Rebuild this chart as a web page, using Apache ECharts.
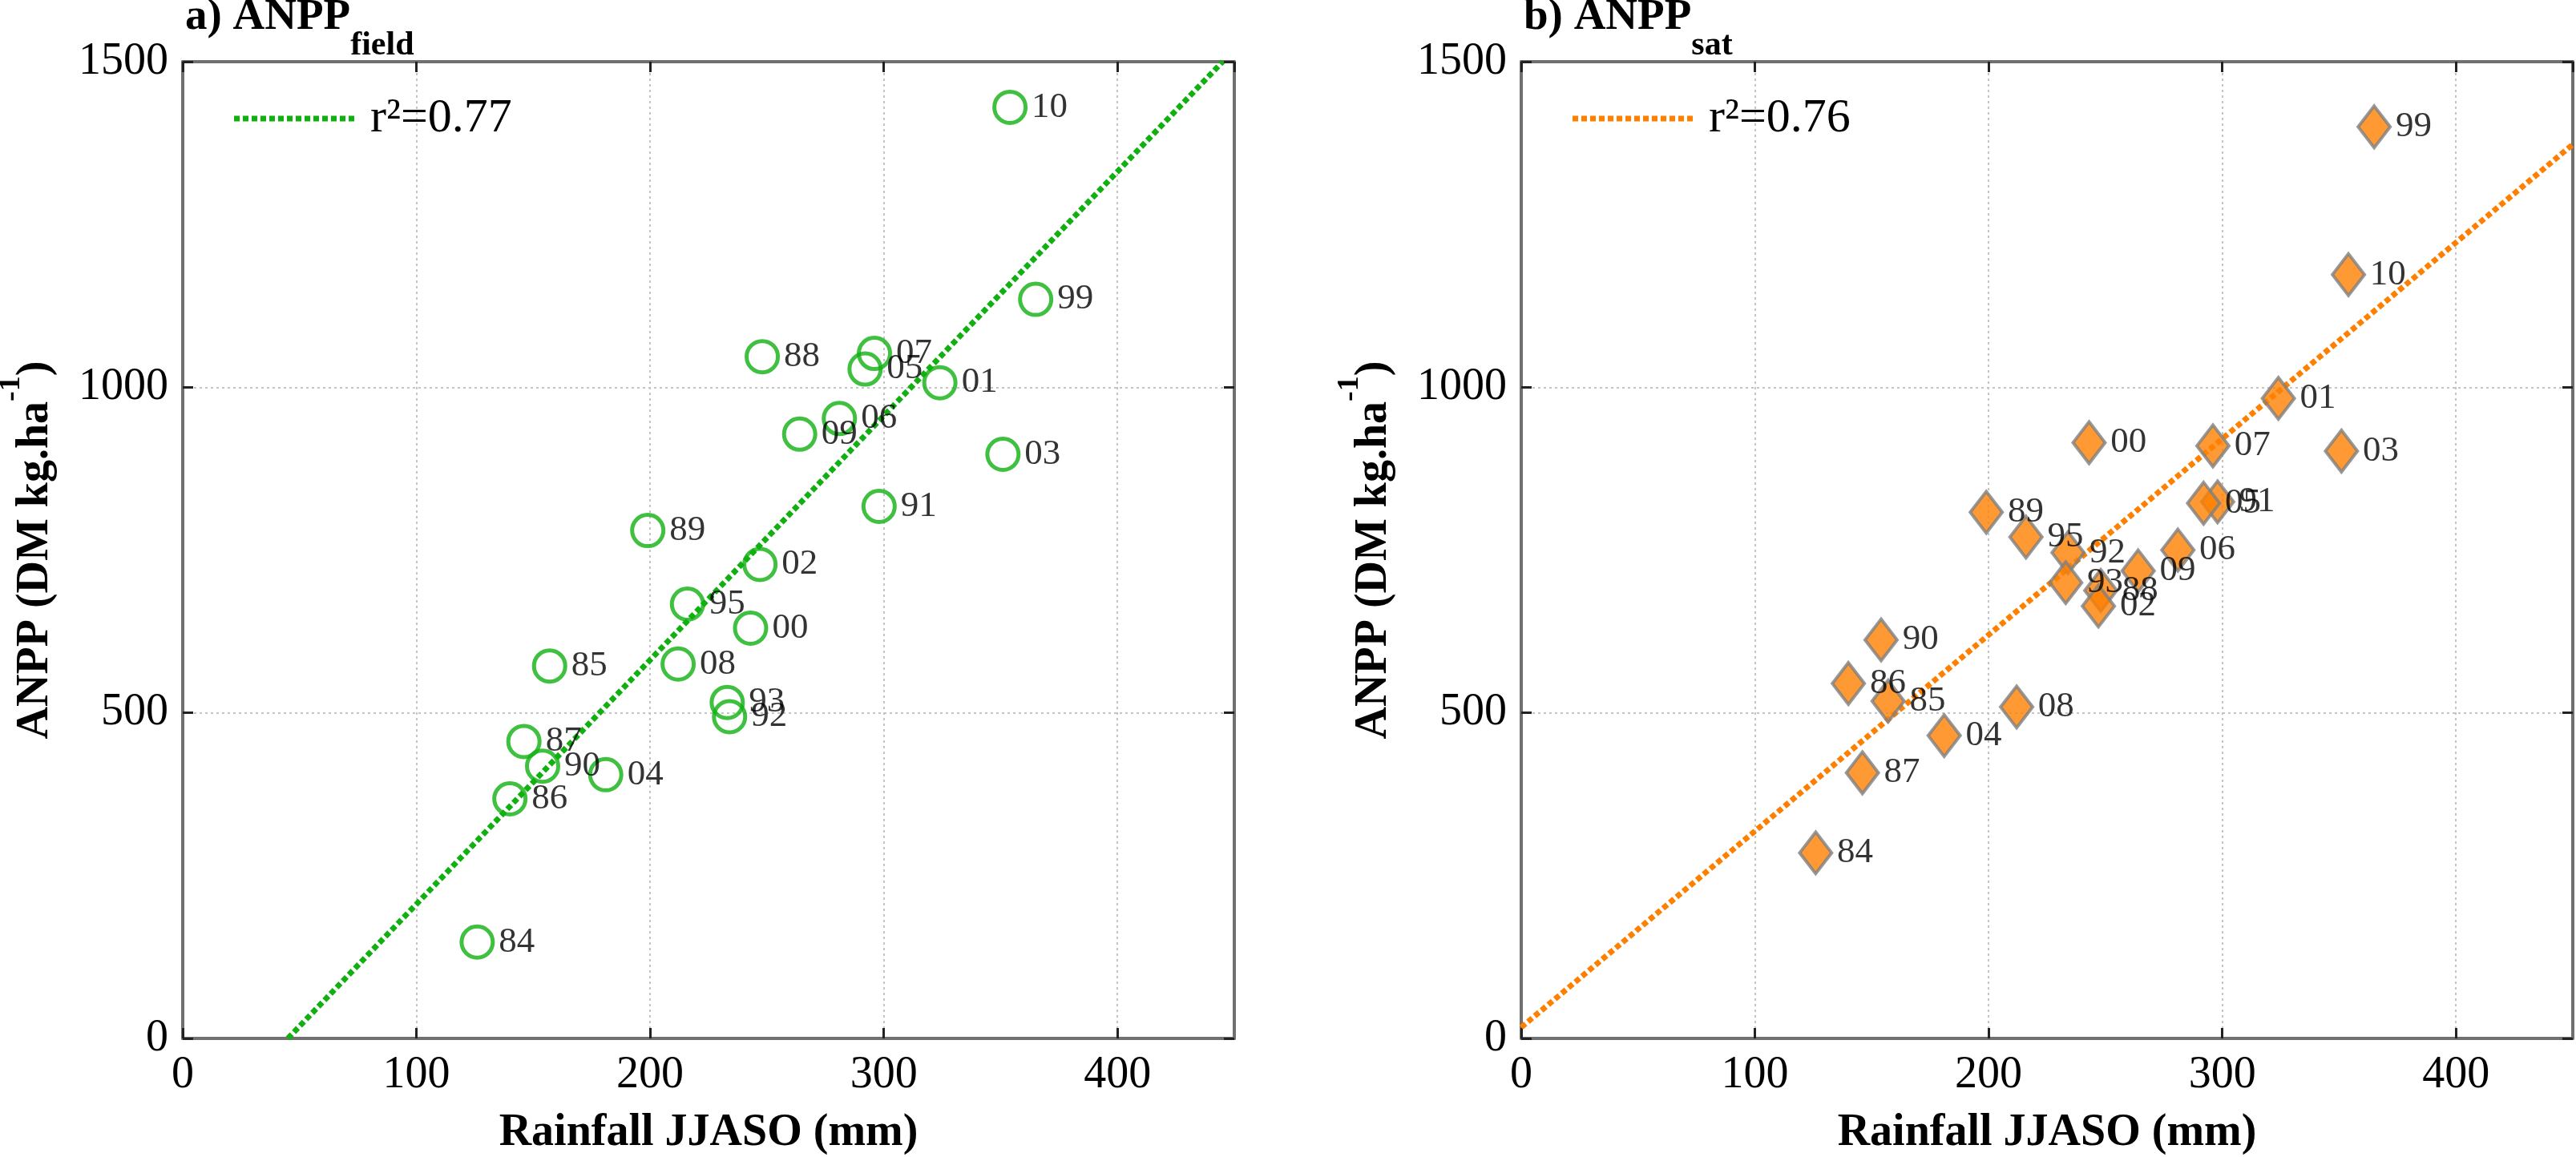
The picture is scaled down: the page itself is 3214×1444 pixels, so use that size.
<!DOCTYPE html>
<html>
<head>
<meta charset="utf-8">
<script src="https://cdn.jsdelivr.net/npm/echarts@6/dist/echarts.min.js"></script>
<style>
  html, body { margin: 0; padding: 0; background: #fff; }
  #main { width: 3214px; height: 1444px; }
</style>
</head>
<body>
<div id="main"></div>
<script>
// rainfall (JJASO) vs ANPP, field and satellite estimates
let years      = ['84', '85', '86', '87', '88', '89', '90', '91', '92', '93', '95', '99', '00', '01', '02', '03', '04', '05', '06', '07', '08', '09', '10'];
let rainJJASO  = [126, 157, 140, 146, 248, 199, 154, 298, 234, 233, 216, 365, 243, 324, 247, 351, 181, 292, 281, 296, 212, 264, 354];
let anppField  = [148, 572, 368, 456, 1047, 780, 418, 817, 494, 516, 667, 1135, 630, 1007, 728, 897, 405, 1028, 952, 1052, 575, 928, 1430];
let anppSat    = [285, 518, 545, 408, 688, 808, 612, 824, 746, 700, 770, 1400, 915, 983, 664, 902, 465, 822, 750, 910, 509, 718, 1173];

// fitted lines
let fitField = [[45, 0], [445, 1500]];
let fitSat   = [[0, 17], [450, 1373]];
let r2Names  = ['r\u00b2=0.77', 'r\u00b2=0.76'];

let xMax = 450, xStep = 100;
let yMax = 1500, yStep = 500;

const SERIF = 'Liberation Serif';
const GREEN = '#10b010';
const ORANGE = '#ff8000';

let grids = [
  { left: 228, top: 77, width: 1312, height: 1219 },
  { left: 1898, top: 77, width: 1312, height: 1219 }
];

// dotted legend sample (square dots)
let dotPath = 'path://';
for (let i = 0; i < 14; i++) dotPath += 'M' + (i * 11) + ',0h7v7h-7z';

function frameX(idx, pos, main) {
  return {
    type: 'value', gridIndex: idx, position: pos, min: 0, max: xMax, interval: xStep,
    axisLine: { show: true, onZero: false, lineStyle: { color: '#707070', width: 4 } },
    axisTick: { show: true, inside: true, length: 13, lineStyle: { color: '#222', width: 3 } },
    axisLabel: {
      show: main, margin: 18, showMaxLabel: false,
      formatter: v => String(v),
      fontFamily: SERIF, fontSize: 56, color: '#000'
    },
    splitLine: { show: main, lineStyle: { color: '#c4c4c4', width: 2, type: [3, 4] } },
    name: main ? 'Rainfall JJASO (mm)' : '',
    nameLocation: 'middle', nameGap: 91, nameMoveOverlap: false,
    nameTextStyle: { fontFamily: SERIF, fontSize: 56, fontWeight: 'bold', color: '#000', lineHeight: 56 }
  };
}

function frameY(idx, pos, main) {
  return {
    type: 'value', gridIndex: idx, position: pos, min: 0, max: yMax, interval: yStep,
    axisLine: { show: true, onZero: false, lineStyle: { color: '#707070', width: 4 } },
    axisTick: { show: true, inside: true, length: 13, lineStyle: { color: '#222', width: 3 } },
    axisLabel: {
      show: main, margin: 18, formatter: v => String(v),
      fontFamily: SERIF, fontSize: 56, color: '#000'
    },
    splitLine: { show: main, lineStyle: { color: '#c4c4c4', width: 2, type: [3, 4] } },
    name: main ? '{m|ANPP (DM kg.ha}{s|-1}{m|)}' : '',
    nameLocation: 'middle', nameRotate: 90, nameGap: 155, nameMoveOverlap: false,
    nameTextStyle: {
      fontFamily: SERIF, fontSize: 56, fontWeight: 'bold', color: '#000',
      rich: {
        m: { fontFamily: SERIF, fontSize: 56, fontWeight: 'bold', color: '#000', lineHeight: 56, verticalAlign: 'bottom' },
        s: { fontFamily: SERIF, fontSize: 38, fontWeight: 'bold', color: '#000', lineHeight: 78, verticalAlign: 'top' }
      }
    }
  };
}

function titleOf(idx, head, sub) {
  return {
    left: grids[idx].left + 3, top: -6, padding: 0,
    text: '{a|' + head + '}{b|' + sub + '}',
    textStyle: {
      rich: {
        a: { fontFamily: SERIF, fontSize: 55, fontWeight: 'bold', color: '#000', lineHeight: 55, verticalAlign: 'top' },
        b: { fontFamily: SERIF, fontSize: 42, fontWeight: 'bold', color: '#000', lineHeight: 84, verticalAlign: 'bottom' }
      }
    }
  };
}

function legendOf(idx, name) {
  return {
    left: grids[idx].left + 64, top: 118, padding: 0,
    orient: 'horizontal', itemWidth: 158, itemHeight: 7,
    icon: dotPath, data: [name], selectedMode: false,
    textStyle: { fontFamily: SERIF, fontSize: 60, color: '#000', padding: [0, 0, 0, 11] }
  };
}

let yearLabel = {
  show: true, position: 'right', distance: 5,
  formatter: p => p.value[2],
  fontFamily: SERIF, fontSize: 45, color: '#000'
};

let fieldPts = rainJJASO.map((r, i) => [r, anppField[i], years[i]]);
let satPts   = rainJJASO.map((r, i) => [r, anppSat[i], years[i]]);

let option = {
  backgroundColor: '#fff',
  animation: false,
  textStyle: { fontFamily: SERIF, color: '#000' },
  title: [titleOf(0, 'a) ANPP', 'field'), titleOf(1, 'b) ANPP', 'sat')],
  legend: [legendOf(0, r2Names[0]), legendOf(1, r2Names[1])],
  grid: grids.map(g => Object.assign({ containLabel: false, outerBoundsMode: 'none' }, g)),
  xAxis: [frameX(0, 'bottom', true), frameX(0, 'top', false), frameX(1, 'bottom', true), frameX(1, 'top', false)],
  yAxis: [frameY(0, 'left', true), frameY(0, 'right', false), frameY(1, 'left', true), frameY(1, 'right', false)],
  series: [
    {
      name: r2Names[0], type: 'line', xAxisIndex: 0, yAxisIndex: 0,
      data: fitField, symbol: 'none', z: 1,
      lineStyle: { color: GREEN, width: 7, type: [7, 4] },
      itemStyle: { color: GREEN }
    },
    {
      name: 'field', type: 'scatter', xAxisIndex: 0, yAxisIndex: 0,
      data: fieldPts, symbol: 'circle', symbolSize: 39, z: 3,
      itemStyle: { color: 'rgba(255,255,255,0)', borderColor: GREEN, borderWidth: 5 },
      label: yearLabel
    },
    {
      name: r2Names[1], type: 'line', xAxisIndex: 2, yAxisIndex: 2,
      data: fitSat, symbol: 'none', z: 1,
      lineStyle: { color: ORANGE, width: 7, type: [7, 4] },
      itemStyle: { color: ORANGE }
    },
    {
      name: 'sat', type: 'scatter', xAxisIndex: 2, yAxisIndex: 2,
      data: satPts, symbol: 'diamond', symbolSize: [40, 52], z: 3,
      itemStyle: { color: ORANGE, borderColor: '#808080', borderWidth: 4 },
      label: yearLabel
    }
  ]
};

var chartDom = document.getElementById('main');
var chart = echarts.init(chartDom);
chart.setOption(option);
</script>
</body>
</html>
